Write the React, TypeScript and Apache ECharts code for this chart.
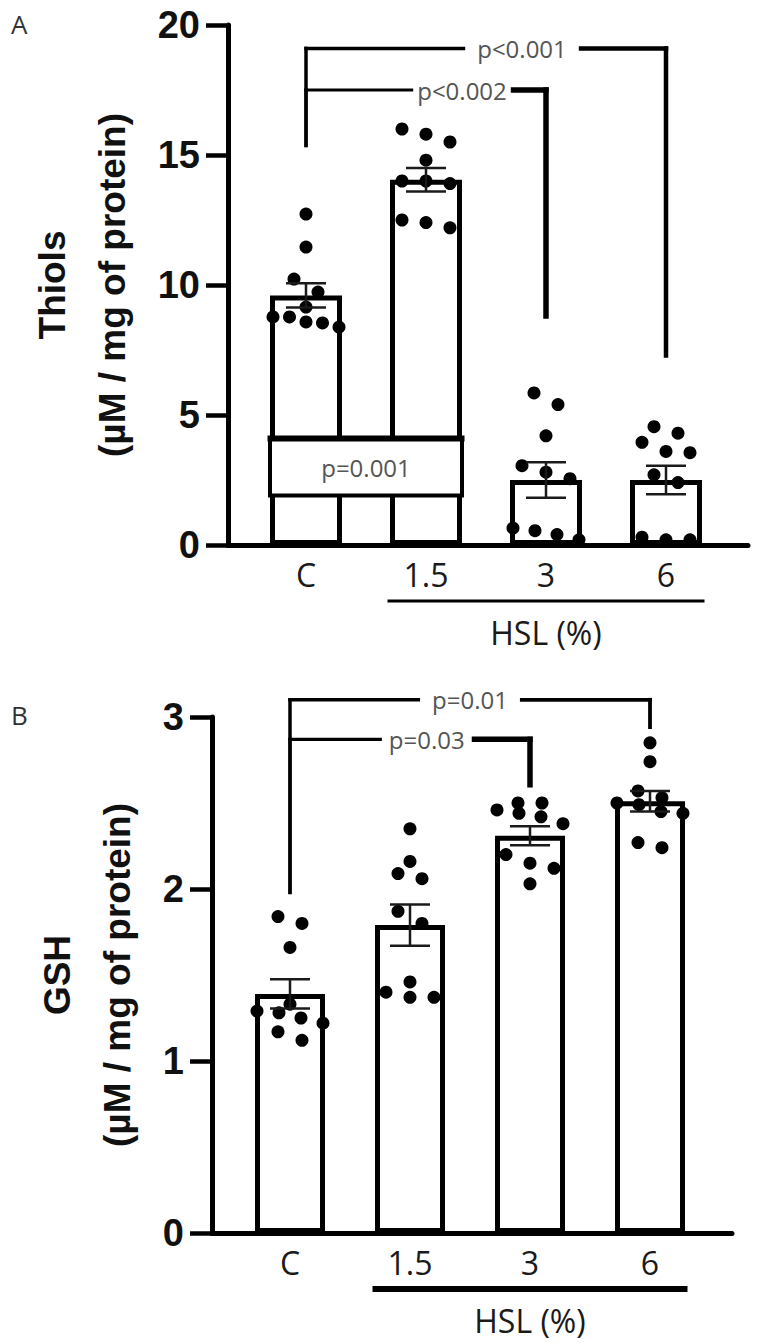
import React, { useEffect, useRef } from "react";
import * as echarts from "echarts";

// ---------- data ----------
const categories = ["C", "1.5", "3", "6"];
const groupName = "HSL (%)";

// Panel A: Thiols (µM / mg of protein)
const thiolsTicks = { min: 0, max: 20, interval: 5 };
const thiolsC = [12.73, 11.46, 10.23, 9.73, 9.15, 8.77, 8.77, 8.58, 8.54, 8.38];
const thiols15 = [16.0, 15.8, 15.5, 14.8, 14.0, 13.9, 14.0, 12.5, 12.4, 12.2];
const thiols3 = [5.85, 5.4, 4.2, 3.05, 2.8, 2.55, 0.65, 0.55, 0.4, 0.2];
const thiols6 = [4.55, 4.3, 3.95, 3.6, 3.55, 2.7, 2.4, 0.3, 0.2, 0.2];
const thiolsMean = [9.6, 14.05, 2.5, 2.5];
const thiolsSem = [0.47, 0.45, 0.68, 0.55];
const thiolsBrackets = [
  { from: 0, to: 3, y: 19.1, fromEnd: 15.3, toEnd: 7.2, label: "p<0.001" },
  { from: 0, to: 2, y: 17.5, fromEnd: 15.3, toEnd: 8.7, label: "p<0.002" },
];
const thiolsBox = [{ from: 0, to: 1, y0: 1.9, y1: 4.1, label: "p=0.001" }];

// Panel B: GSH (µM / mg of protein)
const gshTicks = { min: 0, max: 3, interval: 1 };
const gshC = [1.84, 1.8, 1.66, 1.33, 1.29, 1.28, 1.25, 1.22, 1.17, 1.12];
const gsh15 = [2.35, 2.16, 2.09, 2.06, 1.87, 1.8, 1.46, 1.4, 1.37, 1.37];
const gsh3 = [2.5, 2.5, 2.46, 2.44, 2.42, 2.38, 2.2, 2.15, 2.12, 2.03];
const gsh6 = [2.85, 2.74, 2.57, 2.53, 2.5, 2.49, 2.45, 2.44, 2.27, 2.24];
const gshMean = [1.39, 1.79, 2.31, 2.51];
const gshSem = [0.085, 0.12, 0.055, 0.06];
const gshBrackets = [
  { from: 0, to: 3, y: 3.1, fromEnd: 1.97, toEnd: 2.93, label: "p=0.01" },
  { from: 0, to: 2, y: 2.87, fromEnd: 1.97, toEnd: 2.59, label: "p=0.03" },
];

// ---------- styling / layout ----------
const BOLD = "'Liberation Sans', Arial, sans-serif";
const LIGHT = "'Open Sans', 'Liberation Sans', sans-serif";
const DOT = 13;

const bracketStylesA = [
  { at: 0.6, wl: 3.5, wr: 4.5, gap: 12 },
  { at: 0.65, wl: 3.2, wr: 5.5, gap: 4 },
];
const bracketStylesB = [
  { at: 0.5, wl: 3.5, wr: 3.8, gap: 12 },
  { at: 0.57, wl: 3.2, wr: 5.5, gap: 7 },
];

const panels = [
  {
    key: "A",
    groups: [thiolsC, thiols15, thiols3, thiols6],
    mean: thiolsMean,
    sem: thiolsSem,
    ticks: thiolsTicks,
    brackets: thiolsBrackets,
    bracketStyles: bracketStylesA,
    box: thiolsBox,
    title: "Thiols\n(µM / mg of protein)",
    axisX: 228,
    top: 25,
    height: 520,
    barOuter: 77,
    nameGap: 86,
    underlineWidth: 3,
  },
  {
    key: "B",
    groups: [gshC, gsh15, gsh3, gsh6],
    mean: gshMean,
    sem: gshSem,
    ticks: gshTicks,
    brackets: gshBrackets,
    bracketStyles: bracketStylesB,
    box: [] as any[],
    title: "GSH\n(µM / mg of protein)",
    axisX: 212,
    top: 717,
    height: 516,
    barOuter: 75,
    nameGap: 65,
    underlineWidth: 6,
  },
];

// Row-based dot layout (GraphPad-like): dots whose values lie within one
// dot diameter are put in one row and spread horizontally.
function swarmOffsets(values: number[], pxPerUnit: number): number[] {
  const order = values.map((_, i) => i).sort((a, b) => values[a] - values[b]);
  const out = new Array(values.length).fill(0);
  const thr = (DOT + 1) / pxPerUnit;
  let row: number[] = [];
  const flush = () => {
    const r = [...row].sort((a, b) => values[b] - values[a]);
    const n = r.length;
    const step = n > 1 ? Math.min(24, 66 / (n - 1)) : 0;
    r.forEach((id, k) => {
      out[id] = (k - (n - 1) / 2) * step;
    });
    row = [];
  };
  for (const i of order) {
    if (row.length && values[i] - values[row[0]] >= thr) flush();
    row.push(i);
  }
  flush();
  return out;
}

function line(x1: number, y1: number, x2: number, y2: number, w: number, color = "#000") {
  return { type: "line", shape: { x1, y1, x2, y2 }, style: { stroke: color, lineWidth: w } };
}

function buildPanel(p: any, gi: number) {
  const mainGrid = gi * 2;
  const frameGrid = gi * 2 + 1;
  const pxPerUnit = p.height / p.ticks.max;
  const grids = [
    { left: p.axisX + 18, top: p.top, width: 480, height: p.height },
    { left: p.axisX, top: p.top, width: 520, height: p.height },
  ];
  const xAxes = [
    {
      type: "category",
      gridIndex: mainGrid,
      data: categories,
      axisLine: { show: false },
      axisTick: { show: false },
      axisLabel: {
        fontSize: 32,
        fontFamily: LIGHT,
        color: "#1a1a1a",
        margin: 13,
      },
      splitLine: { show: false },
    },
    {
      type: "value",
      gridIndex: frameGrid,
      min: 0,
      max: 1,
      axisLine: { show: true, onZero: false, lineStyle: { color: "#000", width: 5 } },
      axisTick: { show: false },
      axisLabel: { show: false },
      splitLine: { show: false },
    },
  ];
  const yAxes = [
    {
      type: "value",
      gridIndex: mainGrid,
      min: p.ticks.min,
      max: p.ticks.max,
      interval: p.ticks.interval,
      offset: 18,
      axisLine: { show: true, lineStyle: { color: "#000", width: 5 } },
      axisTick: { show: true, length: 22, lineStyle: { color: "#000", width: 4.5 } },
      axisLabel: {
        fontSize: 38,
        fontWeight: "bold",
        fontFamily: BOLD,
        color: "#111",
        margin: 28,
      },
      splitLine: { show: false },
      name: p.title,
      nameLocation: "middle",
      nameGap: p.nameGap,
      nameTextStyle: {
        fontSize: 37,
        fontWeight: "bold",
        fontFamily: BOLD,
        color: "#111",
        lineHeight: 60,
        align: "center",
      },
    },
    { type: "value", gridIndex: frameGrid, min: 0, max: 1, show: false },
  ];

  const scatterData: any[] = [];
  p.groups.forEach((vals: number[], ci: number) => {
    const offs = swarmOffsets(vals, pxPerUnit);
    vals.forEach((v, k) => {
      scatterData.push({ value: [ci, v], symbolOffset: [offs[k], 0] });
    });
  });

  const series: any[] = [
    {
      type: "bar",
      xAxisIndex: mainGrid,
      yAxisIndex: mainGrid,
      data: p.mean,
      barWidth: p.barOuter - 5,
      itemStyle: { color: "#fff", borderColor: "#000", borderWidth: 5 },
      z: 2,
      silent: true,
    },
    {
      type: "custom",
      xAxisIndex: mainGrid,
      yAxisIndex: mainGrid,
      clip: false,
      z: 3,
      silent: true,
      data: p.box.map((b: any, i: number) => [b.from, b.y1, i]),
      renderItem: (params: any, api: any) => {
        const b = p.box[params.dataIndex];
        const a = api.coord([b.from, b.y1]);
        const c = api.coord([b.to, b.y0]);
        const x0 = a[0] - p.barOuter / 2 + 2.5;
        const x1 = c[0] + p.barOuter / 2 - 2.5;
        return {
          type: "group",
          children: [
            {
              type: "rect",
              shape: { x: x0, y: a[1], width: x1 - x0, height: c[1] - a[1] },
              style: { fill: "#fff", stroke: "#000", lineWidth: 4 },
            },
            line(x0 - 2.5, a[1], x1 + 2.5, a[1], 6),
            {
              type: "text",
              x: (x0 + x1) / 2,
              y: (a[1] + c[1]) / 2,
              style: {
                text: b.label,
                fill: "#555",
                font: `24px ${LIGHT}`,
                align: "center",
                verticalAlign: "middle",
              },
            },
          ],
        };
      },
    },
    {
      type: "scatter",
      xAxisIndex: mainGrid,
      yAxisIndex: mainGrid,
      data: scatterData,
      symbol: "circle",
      symbolSize: DOT,
      itemStyle: { color: "#000", opacity: 1 },
      z: 4,
      silent: true,
    },
    {
      type: "custom",
      xAxisIndex: mainGrid,
      yAxisIndex: mainGrid,
      z: 5,
      silent: true,
      clip: false,
      data: p.mean.map((m: number, i: number) => [i, m, p.sem[i]]),
      encode: { x: 0, y: 1 },
      renderItem: (params: any, api: any) => {
        const c = api.value(0);
        const m = api.value(1);
        const s = api.value(2);
        const t = api.coord([c, m + s]);
        const b = api.coord([c, m - s]);
        const cap = 40;
        return {
          type: "group",
          children: [
            line(t[0], t[1], b[0], b[1], 2.5, "#1a1a1a"),
            line(t[0] - cap / 2, t[1], t[0] + cap / 2, t[1], 2.5, "#1a1a1a"),
            line(b[0] - cap / 2, b[1], b[0] + cap / 2, b[1], 2.5, "#1a1a1a"),
          ],
        };
      },
    },
    {
      type: "custom",
      xAxisIndex: mainGrid,
      yAxisIndex: mainGrid,
      z: 6,
      silent: true,
      clip: false,
      data: p.brackets.map((b: any, i: number) => [b.from, b.y, i]),
      renderItem: (params: any, api: any) => {
        const b = p.brackets[params.dataIndex];
        const st = p.bracketStyles[params.dataIndex];
        const pl = api.coord([b.from, b.y]);
        const pr = api.coord([b.to, b.y]);
        const le = api.coord([b.from, b.fromEnd]);
        const re = api.coord([b.to, b.toEnd]);
        const tx = pl[0] + (pr[0] - pl[0]) * st.at;
        return {
          type: "group",
          children: [
            line(pl[0], pl[1] - st.wl / 2, le[0], le[1], st.wl),
            line(pl[0] - st.wl / 2, pl[1], tx, pl[1], st.wl),
            line(tx, pr[1], pr[0] + st.wr / 2, pr[1], st.wr),
            line(pr[0], pr[1] - st.wr / 2, re[0], re[1], st.wr),
            {
              type: "text",
              x: tx,
              y: pl[1],
              style: {
                text: b.label,
                fill: "#555",
                font: `24px ${LIGHT}`,
                align: "center",
                verticalAlign: "middle",
                backgroundColor: "#fff",
                padding: [2, st.gap],
              },
            },
          ],
        };
      },
    },
    {
      type: "custom",
      xAxisIndex: mainGrid,
      yAxisIndex: mainGrid,
      z: 6,
      silent: true,
      clip: false,
      data: [[1, 0]],
      renderItem: (params: any, api: any) => {
        const a = api.coord([1, 0]);
        const b = api.coord([3, 0]);
        const x0 = a[0] - p.barOuter / 2;
        const x1 = b[0] + p.barOuter / 2;
        return {
          type: "group",
          children: [
            line(x0, a[1] + 56, x1, a[1] + 56, p.underlineWidth, "#000"),
            {
              type: "text",
              x: (x0 + x1) / 2,
              y: a[1] + 87,
              style: {
                text: groupName,
                fill: "#1a1a1a",
                font: `32px ${LIGHT}`,
                align: "center",
                verticalAlign: "middle",
              },
            },
          ],
        };
      },
    },
  ];

  return { grids, xAxes, yAxes, series };
}

export default function App() {
  const ref = useRef<HTMLDivElement>(null);
  useEffect(() => {
    if (!ref.current) return;
    const chart = echarts.init(ref.current, undefined, { renderer: "svg" });
    const built = panels.map((p, i) => buildPanel(p, i));
    const option: any = {
      animation: false,
      backgroundColor: "#fff",
      grid: built.flatMap((b) => b.grids),
      xAxis: built.flatMap((b) => b.xAxes),
      yAxis: built.flatMap((b) => b.yAxes),
      series: built.flatMap((b) => b.series),
      graphic: [
        {
          type: "text",
          left: 11,
          top: 11,
          style: { text: "A", font: `26px ${LIGHT}`, fill: "#333" },
        },
        {
          type: "text",
          left: 11,
          top: 702,
          style: { text: "B", font: `26px ${LIGHT}`, fill: "#333" },
        },
      ],
    };
    chart.setOption(option);
    return () => chart.dispose();
  }, []);
  return (
    <div
      ref={ref}
      style={{ position: "absolute", left: 0, top: 0, width: 762, height: 1343, background: "#fff" }}
    />
  );
}
